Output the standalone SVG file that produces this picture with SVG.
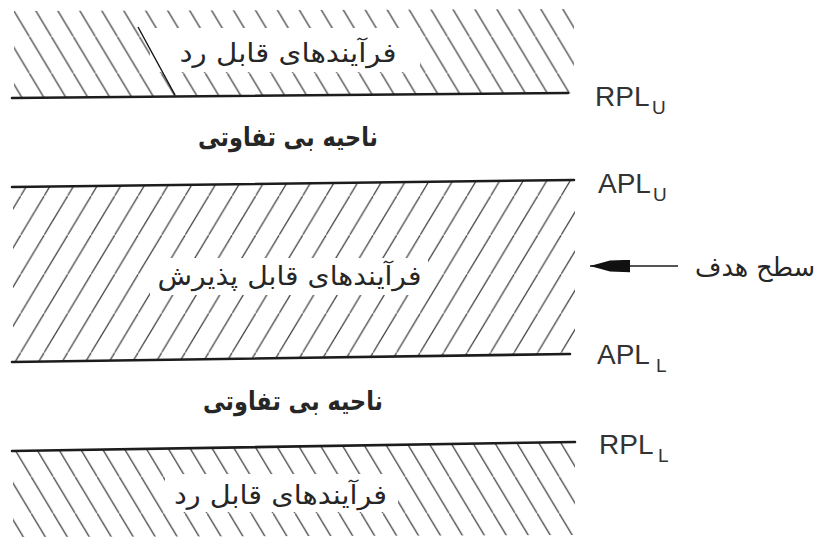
<svg xmlns="http://www.w3.org/2000/svg" width="818" height="541" viewBox="0 0 818 541">
<style>
.base{stroke:#1c1c1c;stroke-width:2.6;stroke-linecap:round;fill:none}
.hatch{stroke:#3a3a3a;stroke-width:1.2;fill:none}
.clear{fill:#ffffff}
.fa{font-family:"DejaVu Sans",sans-serif;fill:#262626;text-anchor:middle;font-size:26px}
.fab{font-family:"DejaVu Sans",sans-serif;fill:#262626;text-anchor:middle;font-size:26px;font-weight:bold}
.lbl{font-family:"Liberation Sans",Arial,sans-serif;fill:#333333;font-size:28px}
.sub{font-family:"Liberation Sans",Arial,sans-serif;fill:#333333;font-size:19px}
.conn{stroke:#1c1c1c;stroke-width:1.6;fill:none}
</style>
<defs>
<pattern id="hbTop" patternUnits="userSpaceOnUse" x="7.4" y="0" width="22" height="36.67">
<path class="hatch" d="M-1,-1.667 L23,38.33"/>
</pattern>
<pattern id="hbBot" patternUnits="userSpaceOnUse" x="9.2" y="0" width="22" height="36.67">
<path class="hatch" d="M-1,-1.667 L23,38.33"/>
</pattern>
<pattern id="hf" patternUnits="userSpaceOnUse" x="-2.8" y="0" width="23.5" height="39.17">
<path class="hatch" d="M24.5,-1.667 L-1,40.83"/>
</pattern>
<marker id="head" markerUnits="userSpaceOnUse" viewBox="0 0 40 13" refX="0" refY="6.5" markerWidth="40" markerHeight="13" orient="auto">
<path d="M0,6.5 L20,1 L40,0.3 L40,12.7 L20,12 Z" fill="#111111"/>
</marker>
</defs>
<rect width="818" height="541" fill="#ffffff"/>

<g id="zone-reject-upper">
<polygon points="14,11 574,9 574,93.5 14,98" fill="url(#hbTop)"/>
<rect class="clear" x="150" y="28" width="270" height="44"/>
<line class="hatch" x1="138" y1="27" x2="175" y2="95" style="stroke:#111;stroke-width:1.4"/>
<text class="fa" x="288" y="62" textLength="217" lengthAdjust="spacingAndGlyphs">فرآیندهای قابل رد</text>
</g>

<g id="zone-indifferent-upper">
<text class="fab" x="288" y="146" textLength="180" lengthAdjust="spacingAndGlyphs">ناحیه بی تفاوتی</text>
</g>

<g id="zone-accept">
<polygon points="13,187 575,180 575,354 13,362" fill="url(#hf)"/>
<rect class="clear" x="150" y="258" width="278" height="37"/>
<text class="fa" x="289.5" y="285" textLength="264" lengthAdjust="spacingAndGlyphs">فرآیندهای قابل پذیرش</text>
</g>

<g id="zone-indifferent-lower">
<text class="fab" x="293" y="410" textLength="180" lengthAdjust="spacingAndGlyphs">ناحیه بی تفاوتی</text>
</g>

<g id="zone-reject-lower">
<polygon points="13,451 575,442 575,535 13,537" fill="url(#hbBot)"/>
<rect class="clear" x="165" y="474" width="233" height="38"/>
<text class="fa" x="280.5" y="504" textLength="213" lengthAdjust="spacingAndGlyphs">فرآیندهای قابل رد</text>
</g>

<g id="limit-RPL-U">
<line class="base" x1="12" y1="98" x2="568" y2="93"/>
<text class="lbl" x="595" y="105.5">RPL</text>
<text class="sub" x="652" y="114">U</text>
</g>

<g id="limit-APL-U">
<line class="base" x1="12" y1="187" x2="574" y2="180"/>
<text class="lbl" x="598" y="193">APL</text>
<text class="sub" x="653" y="201">U</text>
</g>

<g id="limit-APL-L">
<line class="base" x1="12" y1="362" x2="570" y2="354"/>
<text class="lbl" x="597" y="364">APL</text>
<text class="sub" x="656" y="372">L</text>
</g>

<g id="limit-RPL-L">
<line class="base" x1="12" y1="451" x2="575" y2="442"/>
<text class="lbl" x="599" y="454">RPL</text>
<text class="sub" x="658" y="462">L</text>
</g>

<g id="target-label">
<text class="fa" x="755" y="276" textLength="120" lengthAdjust="spacingAndGlyphs">سطح هدف</text>
</g>

<g id="connectors">
<line class="conn" x1="590" y1="266" x2="678" y2="266" marker-start="url(#head)"/>
</g>
</svg>
